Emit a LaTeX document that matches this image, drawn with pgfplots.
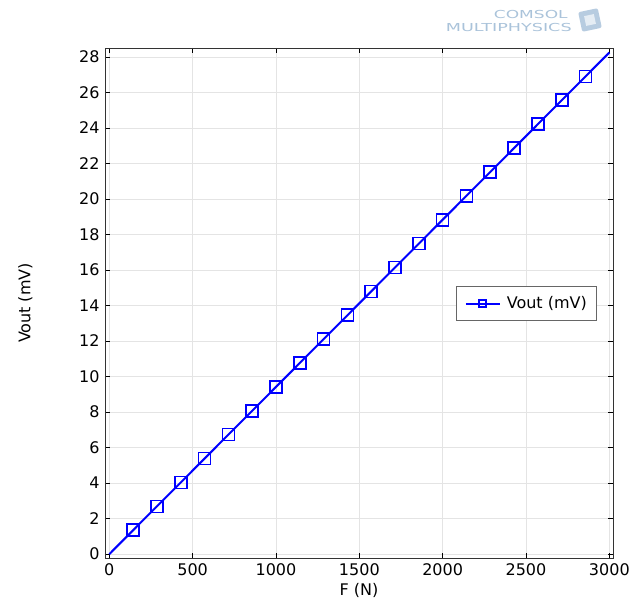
\documentclass[border=0pt]{standalone}
\usepackage{pgfplots}
\pgfplotsset{compat=1.18}
\usepackage{fontspec}
\setmainfont{DejaVu Sans}
\definecolor{logoblue}{RGB}{170,195,218}
\definecolor{gridgray}{RGB}{228,228,228}
\begin{document}
\fontsize{16}{19}\selectfont
\begin{tikzpicture}[x=1pt,y=1pt]
\path[use as bounding box] (0,0) rectangle (630,602);
\node[text=logoblue, font=\fontsize{11}{12}\selectfont, xscale=1.55, anchor=east, inner sep=0pt] at (568,587) {COMSOL};
\node[text=logoblue, font=\fontsize{11}{12}\selectfont, xscale=1.6, anchor=east, inner sep=0pt] at (572,574) {MULTIPHYSICS};
\fill[logoblue!85, rotate around={12:(590,582)}, rounded corners=2pt] (580,572) rectangle (600,592);
\fill[white!70!logoblue, rotate around={12:(590,582)}] (585,577) rectangle (595,587);
\begin{axis}[at={(105pt,44pt)}, anchor=south west, scale only axis,
  width=508pt, height=510pt,
  xmin=-26, xmax=3022, ymin=-0.22, ymax=28.5,
  xtick={0,500,...,3000}, ytick={0,2,...,28},
  grid=major, major grid style={gridgray, line width=0.6pt},
  tick align=inside, major tick length=5pt,
  tick style={black, line width=0.6pt},
  axis line style={black!80, line width=0.9pt},
  /pgf/number format/assume math mode=true,
  /pgf/number format/1000 sep={},
  ticklabel style={font=\fontsize{16}{19}\selectfont},
  xlabel={F (N)}, ylabel={Vout (mV)},
  label style={font=\fontsize{16}{19}\selectfont},
  xlabel style={at={(axis description cs:0.5,-0.063)}, anchor=center},
  ylabel style={at={(axis description cs:-0.157,0.5)}, anchor=center},
  legend style={at={(axis description cs:0.969,0.499)}, anchor=east,
    draw=black!60, line width=0.9pt, inner xsep=8pt, inner ysep=8pt,
    font=\fontsize{16}{19}\selectfont, cells={anchor=west}},
  legend image code/.code={\draw[#1, draw=blue, line width=2pt, mark indices={2}, mark size=3.5pt] plot coordinates {(0pt,0pt) (17pt,0pt) (34pt,0pt)};}
]
\addplot[color=blue, line width=2pt, mark=square, mark size=6pt,
  mark options={line width=1.6pt, solid},
  mark indices={2,3,4,5,6,7,8,9,10,11,12,13,14,15,16,17,18,19,20,21}]
coordinates {
(0,0) (142.857,1.345) (285.714,2.69) (428.571,4.035) (571.429,5.38)
(714.286,6.725) (857.143,8.07) (1000,9.415) (1142.857,10.76) (1285.714,12.105)
(1428.571,13.45) (1571.429,14.795) (1714.286,16.14) (1857.143,17.485) (2000,18.83)
(2142.857,20.175) (2285.714,21.52) (2428.571,22.865) (2571.429,24.21) (2714.286,25.555)
(2857.143,26.9) (3000,28.245)
};
\addlegendentry{\hspace{4pt}Vout (mV)}
\end{axis}
\end{tikzpicture}
\end{document}
